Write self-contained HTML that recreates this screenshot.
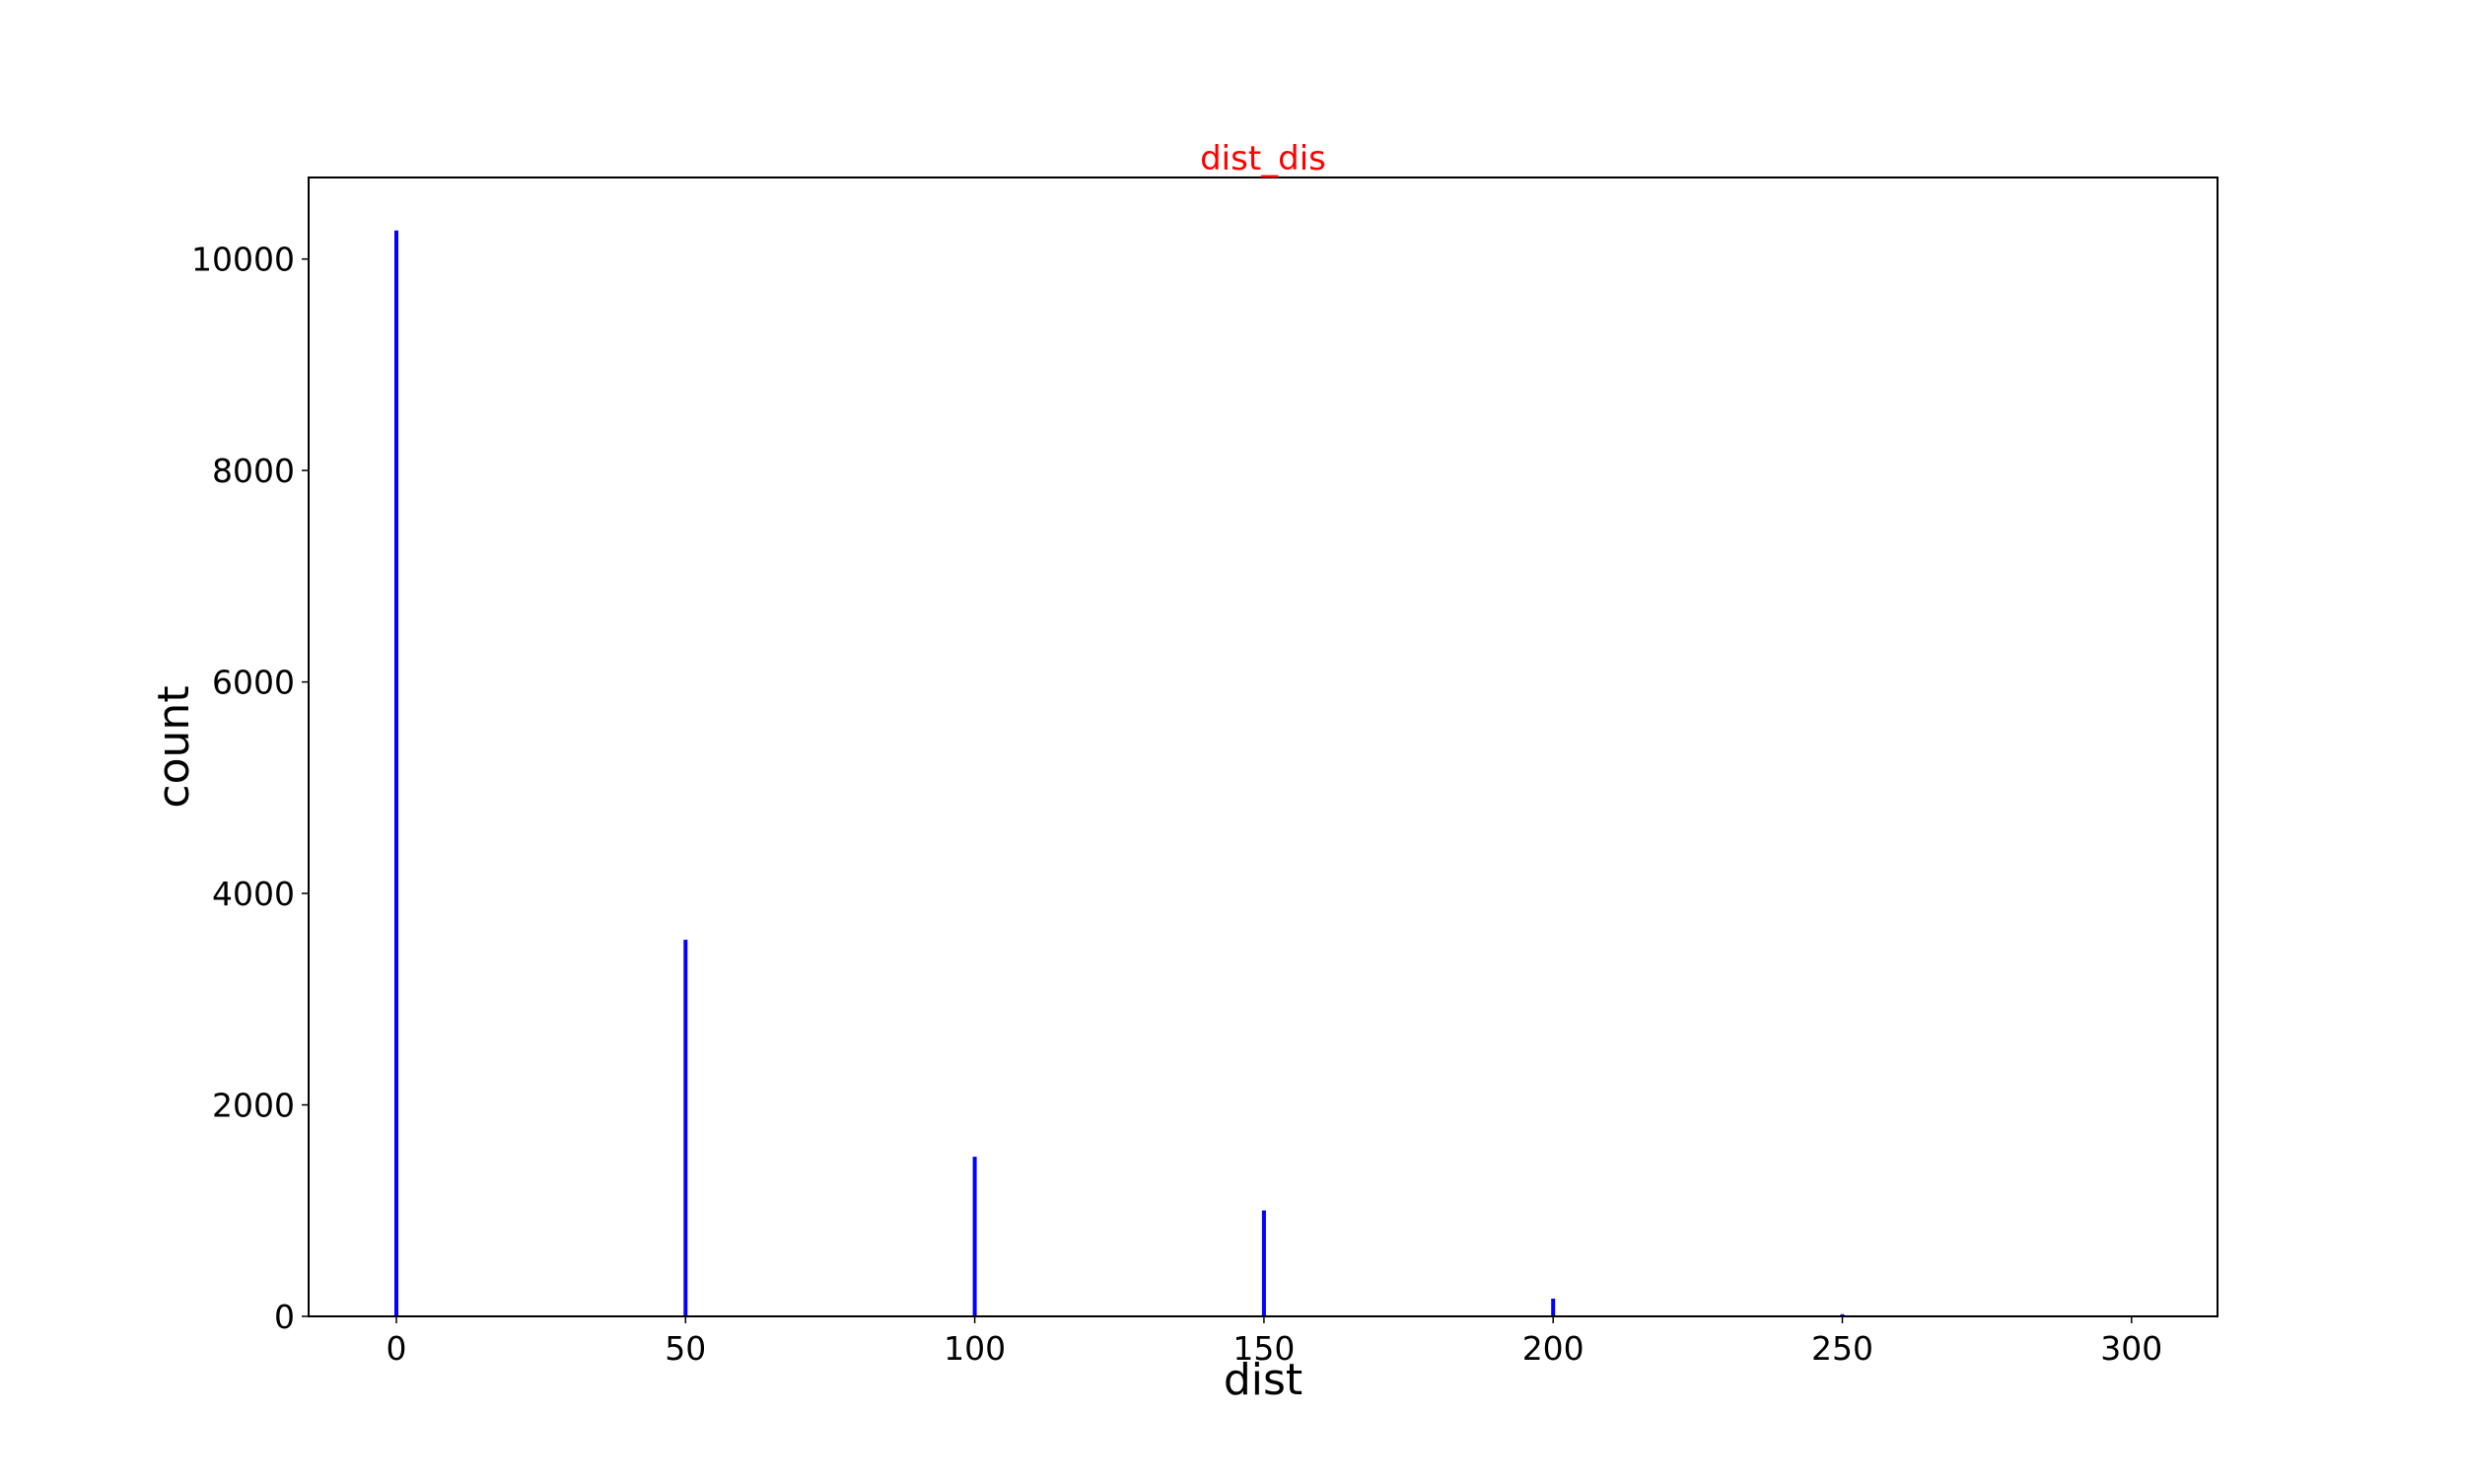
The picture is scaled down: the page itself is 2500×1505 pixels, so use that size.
<!DOCTYPE html>
<html><head><meta charset="utf-8"><style>
html,body{margin:0;padding:0;background:#fff;}
svg text{font-family:"DejaVu Sans","Liberation Sans",sans-serif;}
</style></head><body>
<svg id="chart" width="2500" height="1500" xmlns="http://www.w3.org/2000/svg">
<rect width="2500" height="1500" fill="#fff"/>
<g id="plot"></g>
</svg>
<script>
const categories = [0, 50, 100, 150, 200, 250, 300];
const counts = [10270, 3562, 1510, 1002, 168, 20, 8];
const xTicks = [0, 50, 100, 150, 200, 250, 300];
const yTicks = [0, 2000, 4000, 6000, 8000, 10000];

const L = 313, R = 2249, T = 180, B = 1335;
const x = v => 402 + v * (293.3 / 50);
const y = v => B - v * 0.10723;
const NS = "http://www.w3.org/2000/svg";
const g = document.getElementById('plot');
function mk(tag, attrs, parent) {
  const e = document.createElementNS(NS, tag);
  for (const k in attrs) e.setAttribute(k, attrs[k]);
  (parent || g).appendChild(e);
  return e;
}
categories.forEach((c, i) => {
  const r = mk('rect', {x: x(c) - 2, y: y(counts[i]), width: 4, height: B - y(counts[i]), fill: '#0000ff'});
  
  
});
const frame = mk('rect', {x: L, y: T, width: R - L, height: B - T, fill: 'none', stroke: '#000', 'stroke-width': 2});


xTicks.forEach(t => {
  const tk = mk('line', {x1: x(t), x2: x(t), y1: B, y2: B + 7, stroke: '#000', 'stroke-width': 1.5});
  
  
  const tx = mk('text', {x: x(t), y: B + 44, 'font-size': 33, 'text-anchor': 'middle', fill: '#000'});
  tx.textContent = t;
  
  
});
yTicks.forEach(t => {
  const tk = mk('line', {x1: L - 7, x2: L, y1: y(t), y2: y(t), stroke: '#000', 'stroke-width': 1.5});
  
  
  const tx = mk('text', {x: L - 14, y: y(t) + 12, 'font-size': 33, 'text-anchor': 'end', fill: '#000'});
  tx.textContent = t;
  
  
});
const title = mk('text', {x: (L + R) / 2, y: 172, 'font-size': 34, 'text-anchor': 'middle', fill: '#ff0000'});
title.textContent = 'dist_dis';


const xl = mk('text', {x: (L + R) / 2, y: 1414, 'font-size': 44, 'text-anchor': 'middle', fill: '#000'});
xl.textContent = 'dist';


const yl = mk('text', {x: 0, y: 0, 'font-size': 44, 'text-anchor': 'middle', fill: '#000', transform: 'translate(191,' + ((T + B) / 2) + ') rotate(-90)'});
yl.textContent = 'count';


</script>
</body></html>
